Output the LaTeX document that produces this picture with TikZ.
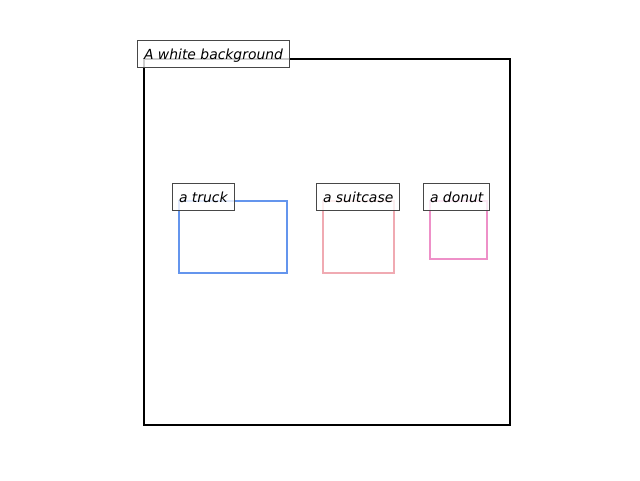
\documentclass[tikz,border=0pt]{standalone}
\usepackage{fontspec}
\setmainfont{DejaVu Sans}
\begin{document}
\begin{tikzpicture}[x=1pt,y=-1pt,
  frame/.style={line width=2pt},
  tag/.style={draw=black!72, line width=1.1pt, fill=white, fill opacity=0.8, text opacity=1,
    anchor=west, inner xsep=6.5pt, inner ysep=0pt, minimum height=27pt,
    text height=13.5pt, text depth=3pt,
    font=\fontsize{13.9}{16}\selectfont\itshape}]
\definecolor{truckc}{HTML}{6495ED}
\definecolor{suitc}{HTML}{F0AAB2}
\definecolor{donutc}{HTML}{EE90C8}
\useasboundingbox (0,0) rectangle (640,480);
% outer image frame
\draw[frame] (144,59) rectangle (510,425);
% object boxes
\draw[frame, truckc] (179,201) rectangle (287,273);
\draw[frame, suitc] (323,201) rectangle (394,273);
\draw[frame, donutc] (430,201) rectangle (487,259);
% labels
\node[tag] (bg) at (137,54) {A white background};
\node[tag] (truck) at (172,197) {a truck};
\node[tag] (suit) at (316,197) {a suitcase};
\node[tag] (donut) at (423,197) {a donut};
\end{tikzpicture}
\end{document}
